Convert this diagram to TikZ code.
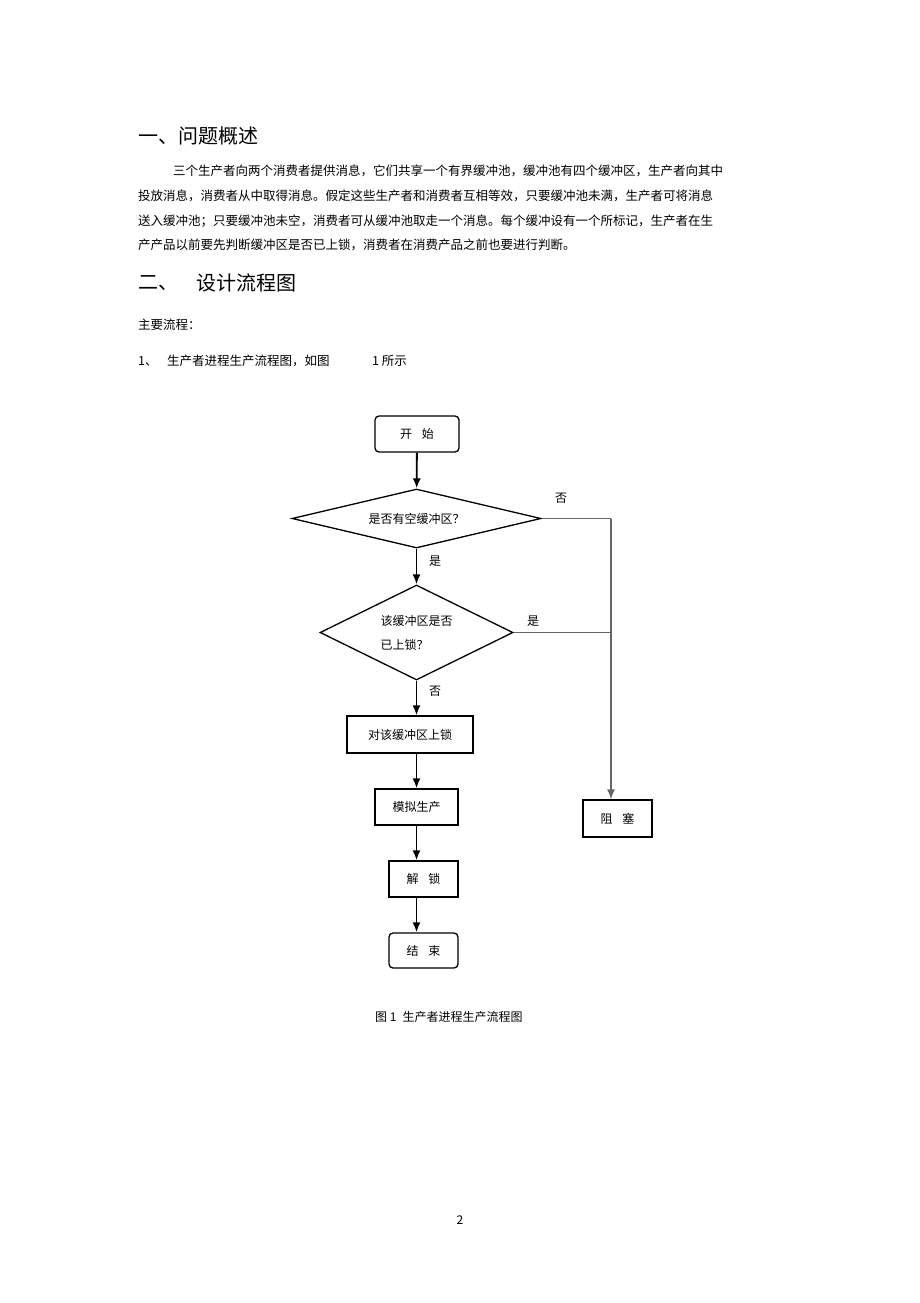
\documentclass[tikz,border=0pt]{standalone}
\usepackage{fontspec}
\setmainfont{Noto Sans CJK SC}
\usetikzlibrary{positioning,shapes.geometric,arrows.meta}
\XeTeXlinebreaklocale "zh"
\XeTeXlinebreakskip=0pt plus 2pt
\newcommand{\fitline}[2]{\makebox[#1][s]{#2}}

\begin{document}
\begin{tikzpicture}[x=1pt,y=-1pt,
  every node/.style={inner sep=0pt, font=\fontsize{12}{14}\selectfont},
  heading/.style={anchor=west, font=\fontsize{20}{22}\selectfont},
  bodytext/.style={anchor=west, font=\fontsize{12.5}{14}\selectfont},
  startstop/.style={draw, rounded corners=4pt, line width=1.3pt},
  process/.style={draw, line width=1.3pt},
  decision/.style={draw, diamond, line width=1.3pt},
  flow/.style={-{Latex[length=10pt,width=8pt]}, line width=1.8pt},
  side/.style={line width=1.5pt, black!60}]
\useasboundingbox (0,0) rectangle (920,1303);
\fill[white] (0,0) rectangle (920,1303);

% text of the page
\node[heading] (sec1) at (138,136) {一、问题概述};
\node[bodytext] (par1) at (173,171) {\fitline{549pt}{三个生产者向两个消费者提供消息，它们共享一个有界缓冲池，缓冲池有四个缓冲区，生产者向其中}};
\node[bodytext] (par2) at (138,196) {\fitline{584pt}{投放消息，消费者从中取得消息。假定这些生产者和消费者互相等效，只要缓冲池未满，生产者可将消息}};
\node[bodytext] (par3) at (138,221) {\fitline{584pt}{送入缓冲池；只要缓冲池未空，消费者可从缓冲池取走一个消息。每个缓冲设有一个所标记，生产者在生}};
\node[bodytext] (par4) at (138,245) {\fitline{432pt}{产产品以前要先判断缓冲区是否已上锁，消费者在消费产品之前也要进行判断。}};
\node[heading] (sec2a) at (138,283) {二、};
\node[heading] (sec2b) at (196,283) {设计流程图};
\node[bodytext] (main) at (138,325) {主要流程：};
\node[bodytext] (item) at (138,361) {1、};
\node[bodytext] (itemtext) at (167,361) {\fitline{173pt}{生产者进程生产流程图，如图}};
\node[bodytext] (itemref) at (372,361) {1 所示};

% flow chart
\node[startstop, minimum width=84pt, minimum height=36pt] (start) at (417,434) {开\hspace{0.8em}始};
\node[decision, aspect=4.2, minimum width=249pt, minimum height=59pt] (free) at (416.5,518.5) {是否有空缓冲区？};
\node[decision, aspect=2, minimum width=193pt, minimum height=95pt, align=left, font=\fontsize{12}{24}\selectfont] (locked) at (416.5,632.5) {该缓冲区是否\\已上锁？};
\node[process, minimum width=126pt, minimum height=37pt] (lock) at (410,734.5) {对该缓冲区上锁};
\node[process, minimum width=83pt, minimum height=36pt] (sim) at (416.5,807) {模拟生产};
\node[process, minimum width=69pt, minimum height=36pt] (unlock) at (423.5,879) {解\hspace{0.8em}锁};
\node[startstop, minimum width=69pt, minimum height=35pt] (done) at (423.5,950.5) {结\hspace{0.8em}束};
\node[process, minimum width=69pt, minimum height=37pt] (block) at (617.5,818.5) {阻\hspace{0.8em}塞};
\coordinate (rail) at (611,518.5);

\draw[flow] (start) -- (free);
\draw[flow] (free) -- (locked);
\draw[flow] (locked) -- (locked.south |- lock.north);
\draw[flow] (lock.south -| sim.north) -- (sim.north);
\draw[flow] (sim) -- (sim.south |- unlock.north);
\draw[flow] (sim.south |- unlock.south) -- (sim.south |- done.north);
\draw[side] (free.east) -- (rail);
\draw[side] (locked.east) -- (locked.east -| rail);
\draw[side, flow, line width=1.5pt] (rail) -- (rail |- block.north);

% branch labels
\node (no1) at (561,498) {否};
\node (yes1) at (435,561) {是};
\node (yes2) at (533,621) {是};
\node (no2) at (435,691) {否};

\node[anchor=west] (caption) at (375,1017) {图 1\hspace{0.5em}生产者进程生产流程图};
\node (pagenum) at (460,1220) {2};
\end{tikzpicture}
\end{document}
